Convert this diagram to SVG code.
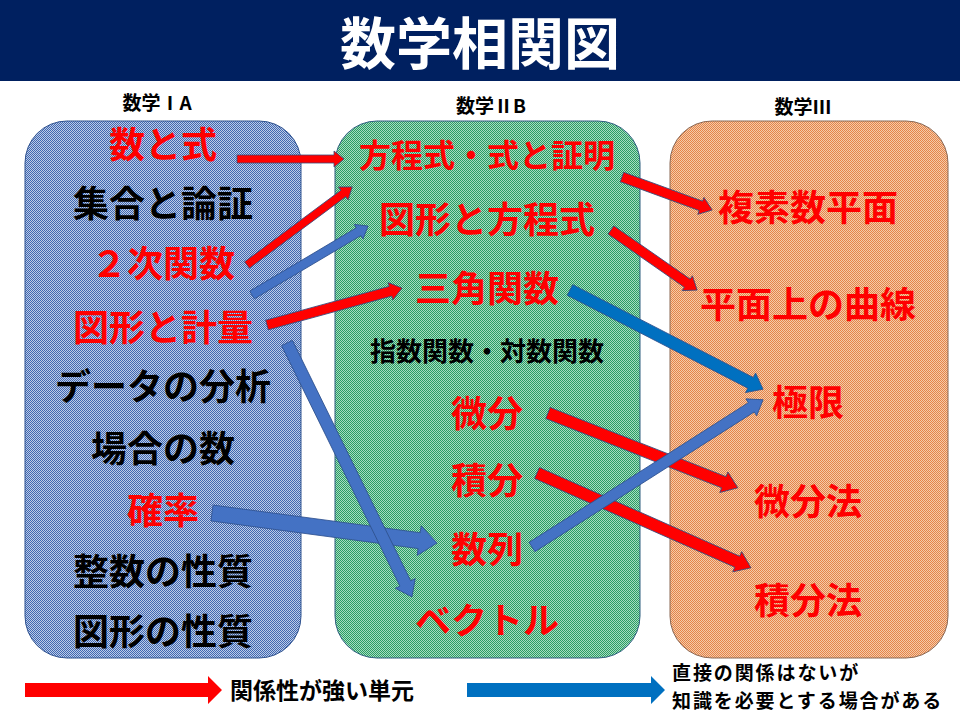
<svg xmlns="http://www.w3.org/2000/svg" width="960" height="720" viewBox="0 0 960 720">
<defs>
<pattern id="pb" patternUnits="userSpaceOnUse" width="2" height="2"><rect width="2" height="2" fill="#bccbe8"/><rect width="1" height="1" fill="#4068b0"/><rect x="1" y="1" width="1" height="1" fill="#4068b0"/></pattern>
<pattern id="pg" patternUnits="userSpaceOnUse" width="2" height="2"><rect width="2" height="2" fill="#a6dcc0"/><rect width="1" height="1" fill="#2a9c64"/><rect x="1" y="1" width="1" height="1" fill="#2a9c64"/></pattern>
<pattern id="po" patternUnits="userSpaceOnUse" width="2" height="2"><rect width="2" height="2" fill="#f5caa8"/><rect width="1" height="1" fill="#e4844a"/><rect x="1" y="1" width="1" height="1" fill="#e4844a"/></pattern>
</defs>
<style>
text{font-family:"Noto Sans CJK JP","Noto Sans CJK SC",sans-serif;font-weight:700;text-anchor:middle}
.t{font-size:36px}
.r{fill:#ff0000}
.k{fill:#000000}
.h{font-size:19px}
.lg{font-size:19px;letter-spacing:1.9px;text-anchor:start}
.ar{fill:#ff0000;stroke:#3a4a7a;stroke-width:0.8}
.ab{fill:#4472c4;stroke:#2f528f;stroke-width:0.8}
.ab2{fill:#0070c0;stroke:#2f528f;stroke-width:0.8}
</style>
<rect x="0" y="0" width="960" height="81" fill="#002060"/>
<text x="480" y="64" font-size="56" font-weight="900" fill="#ffffff">数学相関図</text>
<text class="h k" x="157" y="110">数学ⅠA</text>
<text class="h k" x="491" y="113">数学ⅡB</text>
<text class="h k" x="803" y="114">数学Ⅲ</text>
<g id="box-ia"><rect x="25" y="121" width="276" height="537" rx="42" fill="url(#pb)" stroke="#2f528f" stroke-width="1"/>
<text class="t r" x="163" y="158">数と式</text>
<text class="t k" x="163" y="217">集合と論証</text>
<text class="t r" x="163" y="277">２次関数</text>
<text class="t r" x="163" y="341">図形と計量</text>
<text class="t k" x="163" y="400">データの分析</text>
<text class="t k" x="163" y="462">場合の数</text>
<text class="t r" x="163" y="524">確率</text>
<text class="t k" x="163" y="585">整数の性質</text>
<text class="t k" x="163" y="645">図形の性質</text>
</g>
<g id="box-iib"><rect x="335" y="121" width="305" height="537" rx="42" fill="url(#pg)" stroke="#2f5f7f" stroke-width="1"/>
<text class="r" x="487" y="167" font-size="32">方程式・式と証明</text>
<text class="t r" x="487" y="233">図形と方程式</text>
<text class="t r" x="487" y="302">三角関数</text>
<text class="k" x="487" y="361" font-size="26">指数関数・対数関数</text>
<text class="t r" x="487" y="427">微分</text>
<text class="t r" x="487" y="494">積分</text>
<text class="t r" x="487" y="563">数列</text>
<text class="t r" x="487" y="634">ベクトル</text>
</g>
<g id="box-iii"><rect x="670" y="121" width="278" height="537" rx="42" fill="url(#po)" stroke="#8a6855" stroke-width="1"/>
<text class="t r" x="808" y="221">複素数平面</text>
<text class="t r" x="808" y="318">平面上の曲線</text>
<text class="t r" x="808" y="416">極限</text>
<text class="t r" x="808" y="515">微分法</text>
<text class="t r" x="808" y="614">積分法</text>
</g>
<g id="connectors">
<polygon class="ar" transform="translate(237,159)" points="0,-4 97,-4 97,-8 107,0 97,8 97,4 0,4"/>
<polygon class="ar" transform="translate(247,265) rotate(-36.6)" points="0,-4 120,-4 120,-8 131,0 120,8 120,4 0,4"/>
<polygon class="ab" transform="translate(252,295) rotate(-30.7)" points="0,-4.5 124,-4.5 124,-8.5 135,0 124,8.5 124,4.5 0,4.5"/>
<polygon class="ar" transform="translate(267,325) rotate(-15.3)" points="0,-5 128,-5 128,-9 140,0 128,9 128,5 0,5"/>
<polygon class="ar" transform="translate(622,177) rotate(20.1)" points="0,-5 84,-5 84,-9 96,0 84,9 84,5 0,5"/>
<polygon class="ar" transform="translate(611,230) rotate(34.9)" points="0,-5 93,-5 93,-9 105,0 93,9 93,5 0,5"/>
<polygon class="ab2" transform="translate(570,290) rotate(27.2)" points="0,-6 203,-6 203,-11 217,0 203,11 203,6 0,6"/>
<polygon class="ab" transform="translate(212,513) rotate(7.6)" points="0,-8 209,-8 209,-15 227,0 209,15 209,8 0,8"/>
<polygon class="ab" transform="translate(287,343) rotate(63.8)" points="0,-6 268,-6 268,-11 283,0 268,11 268,6 0,6"/>
<polygon class="ar" transform="translate(548,413) rotate(21.5)" points="0,-6 189,-6 189,-11 204,0 189,11 189,6 0,6"/>
<polygon class="ar" transform="translate(537,473) rotate(23.9)" points="0,-6 219,-6 219,-11 234,0 219,11 219,6 0,6"/>
<polygon class="ab" transform="translate(532,547) rotate(-32.5)" points="0,-5.5 260,-5.5 260,-10 274,0 260,10 260,5.5 0,5.5"/>
</g>
<g id="legend">
<polygon fill="#ff0000" points="25,683 208,683 208,676 222,690 208,704 208,697 25,697"/>
<text class="k" x="230" y="699" font-size="23" style="text-anchor:start">関係性が強い単元</text>
<polygon fill="#0070c0" points="467,683 651,683 651,676 665,690 651,704 651,697 467,697"/>
<text class="lg k" x="672" y="679.5">直接の関係はないが</text>
<text class="lg k" x="672" y="707.5">知識を必要とする場合がある</text>
</g>
</svg>
